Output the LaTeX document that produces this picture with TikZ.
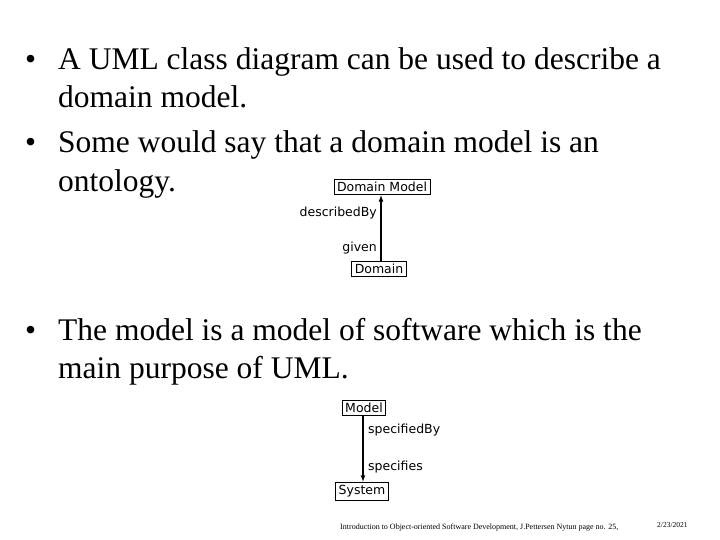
\documentclass[tikz,border=0pt]{standalone}
\usepackage{fontspec}
\setmainfont{Liberation Serif}
\newfontfamily\umlfont{DejaVu Sans}
\begin{document}
\begin{tikzpicture}[x=1pt,y=-1pt,
  bullettext/.style={anchor=base west,inner sep=0pt,font=\fontsize{31.5}{34}\selectfont},
  umlbox/.style={draw,thick,inner sep=3pt,font=\umlfont\fontsize{12.5}{14}\selectfont},
  umllabel/.style={inner sep=1pt,font=\umlfont\fontsize{12.5}{14}\selectfont},
  footer/.style={anchor=base west,inner sep=0pt,font=\fontsize{8}{9}\selectfont}]
\useasboundingbox (0,0) rectangle (720,540);
% bullets
\node[bullettext] (b1) at (25,70) {•};
\node[bullettext] (t1) at (58,70) {A UML class diagram can be used to describe a};
\node[bullettext] (t1b) at (58,108) {domain model.};
\node[bullettext] (b2) at (25,153) {•};
\node[bullettext] (t2) at (58,153) {Some would say that a domain model is an};
\node[bullettext] (t2b) at (58,192) {ontology.};
\node[bullettext] (b3) at (25,340) {•};
\node[bullettext] (t3) at (58,340) {The model is a model of software which is the};
\node[bullettext] (t3b) at (58,378) {main purpose of UML.};
% domain model diagram
\node[umlbox] (dmodel) at (382,187) {Domain Model};
\node[umlbox] (domain) at (379,269) {Domain};
\draw[very thick,-latex] (domain.north -| 381,0) -- (dmodel.south -| 381,0);
\node[umllabel,anchor=east] (describedby) at (378,213) {describedBy};
\node[umllabel,anchor=east] (given) at (378,248) {given};
% model diagram
\node[umlbox] (model) at (364,408) {Model};
\node[umlbox] (system) at (362,491) {System};
\draw[very thick,-latex] (model.south -| 363,0) -- (system.north -| 363,0);
\node[umllabel,anchor=west] (specifiedby) at (367,430) {specifiedBy};
\node[umllabel,anchor=west] (specifies) at (367,467) {specifies};
% footer
\node[footer] (foot) at (340,529) {Introduction to Object-oriented Software Development, J.Pettersen Nytun page no. 25,};
\node[footer] (date) at (657,527) {\fontsize{7.5}{8}\selectfont 2/23/2021};
\end{tikzpicture}
\end{document}
